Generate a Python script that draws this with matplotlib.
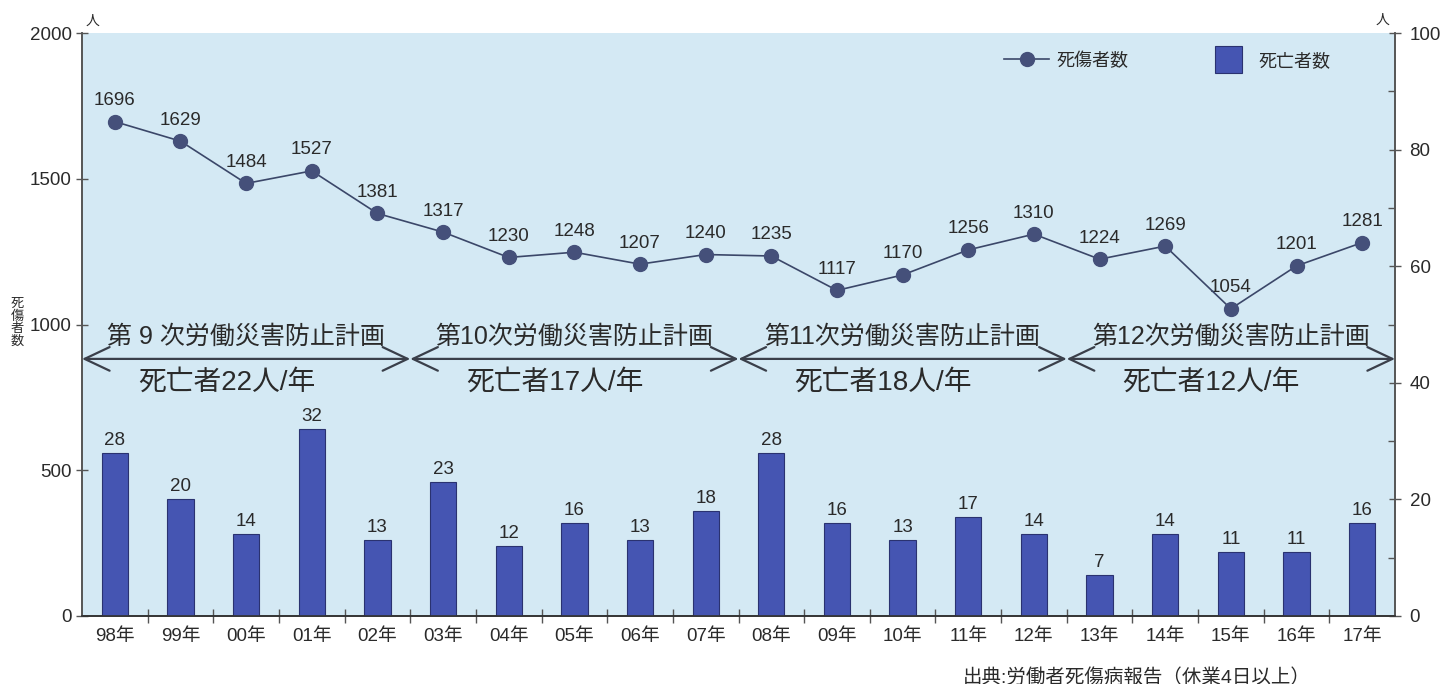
import matplotlib
matplotlib.use("Agg")
import matplotlib.pyplot as plt
from matplotlib.lines import Line2D
from matplotlib.patches import Patch, Rectangle
from matplotlib.legend_handler import HandlerPatch
from matplotlib.ticker import FixedLocator

plt.rcParams['font.family'] = ['Liberation Sans', 'Noto Sans CJK JP', 'DejaVu Sans']

# ---- data ----
years = ['98年', '99年', '00年', '01年', '02年', '03年', '04年', '05年', '06年', '07年',
         '08年', '09年', '10年', '11年', '12年', '13年', '14年', '15年', '16年', '17年']
casualties = [1696, 1629, 1484, 1527, 1381, 1317, 1230, 1248, 1207, 1240,
              1235, 1117, 1170, 1256, 1310, 1224, 1269, 1054, 1201, 1281]
deaths = [28, 20, 14, 32, 13, 23, 12, 16, 13, 18,
          28, 16, 13, 17, 14, 7, 14, 11, 11, 16]
plan_names = ['第 9 次労働災害防止計画', '第10次労働災害防止計画',
              '第11次労働災害防止計画', '第12次労働災害防止計画']
plan_deaths = ['死亡者22人/年', '死亡者17人/年', '死亡者18人/年', '死亡者12人/年']
plan_start = [0, 5, 10, 15]
plan_end = [4, 9, 14, 19]
plan_arrow_y = 882

BG = '#d4e9f4'
BAR = '#4555b2'
BAR_EDGE = '#2a3270'
LINE = '#3b4769'
MARK = '#45507a'
TXT = '#2a2a2a'
SPINE = '#555555'

fig = plt.figure(figsize=(14.46, 6.84), dpi=100)
ax1 = fig.add_axes([82/1446, 68/684, 1313/1446, 583/684])
ax1.set_facecolor(BG)
ax2 = ax1.twinx()

x = list(range(len(years)))

# bars on right axis
ax2.bar(x, deaths, width=0.4, color=BAR, edgecolor=BAR_EDGE, linewidth=0.8, zorder=2)
for xi, d in zip(x, deaths):
    ax2.annotate(str(d), (xi, d), xytext=(0, 3), textcoords='offset points',
                 ha='center', va='bottom', fontsize=13.5, color=TXT)

# line on left axis
ax1.plot(x, casualties, color=LINE, linewidth=1.2, marker='o', markersize=10,
         markerfacecolor=MARK, markeredgecolor=MARK, zorder=5)
for xi, c in zip(x, casualties):
    ax1.annotate(str(c), (xi, c), xytext=(0, 9), textcoords='offset points',
                 ha='center', va='bottom', fontsize=13.5, color=TXT)

# plan arrows
for s, e, name, dtxt in zip(plan_start, plan_end, plan_names, plan_deaths):
    ax1.annotate('', xy=(e + 0.5, plan_arrow_y), xytext=(s - 0.5, plan_arrow_y),
                 arrowprops=dict(arrowstyle='<->,head_length=1.8,head_width=0.85',
                                 color='#3a3f4a', lw=1.6, shrinkA=0, shrinkB=0,
                                 mutation_scale=10), zorder=4)
    xc = (s + e) / 2
    ax1.text(xc, 958, name, ha='center', va='center', fontsize=18, color=TXT, zorder=4)
    ax1.text(xc - 0.3, 800, dtxt, ha='center', va='center', fontsize=20, color=TXT, zorder=4)

# axes limits & ticks
ax1.set_xlim(-0.5, len(years) - 0.5)
ax1.set_ylim(0, 2000)
ax2.set_ylim(0, 100)
ax1.set_yticks([0, 500, 1000, 1500, 2000])
ax2.set_yticks([0, 20, 40, 60, 80, 100])
ax2.yaxis.set_minor_locator(FixedLocator([10, 30, 50, 70, 90]))
ax1.set_xticks(x)
ax1.set_xticklabels(years)
ax1.xaxis.set_minor_locator(FixedLocator([i + 0.5 for i in range(len(years) - 1)]))
ax1.tick_params(axis='x', which='major', length=0, labelsize=13.5, pad=9, colors=TXT)
ax1.tick_params(axis='x', which='minor', direction='inout', length=10, width=1, color=SPINE)
ax1.tick_params(axis='y', which='major', direction='inout', length=9, width=1,
                labelsize=13.5, color=SPINE, labelcolor=TXT, pad=3)
ax2.tick_params(axis='y', which='major', direction='inout', length=9, width=1,
                labelsize=13.5, color=SPINE, labelcolor=TXT, pad=6)
ax2.tick_params(axis='y', which='minor', direction='in', length=5, width=1, color=SPINE)

for a in (ax1, ax2):
    a.spines['top'].set_visible(False)
    a.spines['left'].set_color(SPINE)
    a.spines['right'].set_color(SPINE)
    a.spines['bottom'].set_color('#333333')
    a.spines['left'].set_linewidth(1.2)
    a.spines['right'].set_linewidth(1.2)
    a.spines['bottom'].set_linewidth(1.2)

# legend
def square_patch(legend, orig_handle, xdescent, ydescent, width, height, fontsize):
    s = 1.5 * fontsize
    cx = -xdescent + width / 2
    cy = -ydescent + height / 2
    return Rectangle((cx - s / 2, cy - s / 2), s, s)

handles = [Line2D([], [], color=LINE, linewidth=1.2, marker='o', markersize=10,
                  markerfacecolor=MARK, markeredgecolor=MARK),
           Patch(facecolor=BAR, edgecolor=BAR_EDGE, linewidth=0.8)]
ax1.legend(handles, ['死傷者数', '死亡者数'], loc='upper left', bbox_to_anchor=(0.69, 0.995),
           ncol=2, frameon=False, fontsize=13, handlelength=2.5, handletextpad=0.4,
           columnspacing=4.3, handler_map={Patch: HandlerPatch(patch_func=square_patch)},
           labelcolor=TXT)

# extra texts
fig.text(17/1446, 1 - 323/684, '死\n傷\n者\n数', ha='center', va='center', fontsize=9.5,
         linespacing=1.05, color=TXT)
fig.text(92/1446, 1 - 21/684, '人', ha='center', va='center', fontsize=10, color=TXT)
fig.text(1382/1446, 1 - 20/684, '人', ha='center', va='center', fontsize=10, color=TXT)
fig.text(963/1446, 1 - 677/684, '出典:労働者死傷病報告（休業4日以上）', ha='left', va='center',
         fontsize=14, color=TXT)

fig.savefig('out.png', dpi=100)
